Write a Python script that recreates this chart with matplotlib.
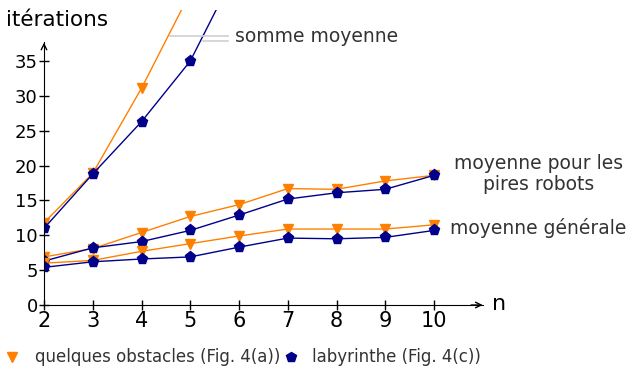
import matplotlib.pyplot as plt

# données
n = [2, 3, 4, 5, 6, 7, 8, 9, 10]
n_somme = [2, 3, 4, 5, 6]

# somme moyenne (courbes tronquées en haut)
somme_obst = [11.8, 18.9, 31.1, 44.8]
somme_laby = [11.0, 18.8, 26.3, 35.0, 48.8]

# moyenne pour les pires robots
pires_obst = [6.9, 8.1, 10.4, 12.7, 14.4, 16.7, 16.6, 17.8, 18.6]
pires_laby = [6.3, 8.2, 9.1, 10.7, 12.9, 15.2, 16.1, 16.6, 18.6]

# moyenne générale
gen_obst = [6.0, 6.4, 7.7, 8.8, 9.9, 10.9, 10.9, 10.9, 11.5]
gen_laby = [5.4, 6.2, 6.6, 6.9, 8.3, 9.6, 9.5, 9.7, 10.7]

yticks = [0, 5, 10, 15, 20, 25, 30, 35]

ORANGE = '#ff8000'
BLUE = '#00008b'
TXT = '#333333'

plt.rcParams['font.family'] = 'DejaVu Sans'

fig = plt.figure(figsize=(6.3, 3.73), dpi=100)
W, H = 630, 373
# axe : n=2 -> px 44, n=11.09 -> px 487 ; y=0 -> px 305, y=42.3 -> px 10
ax = fig.add_axes([44 / W, (H - 305) / H, (487 - 44) / W, (305 - 10) / H])
ax.set_xlim(2, 2 + (487 - 44) / 48.75)
ax.set_ylim(0, (305 - 10) / 6.97)

st_o = dict(color=ORANGE, lw=1, marker='v', ms=7, mfc=ORANGE, mec=ORANGE)
st_b = dict(color=BLUE, lw=1, marker='p', ms=8, mfc=BLUE, mec=BLUE)

ax.plot(n_somme[:len(somme_obst)], somme_obst, **st_o)
ax.plot(n_somme, somme_laby, **st_b)
ax.plot(n, pires_obst, **st_o)
ax.plot(n, pires_laby, **st_b)
ax.plot(n, gen_obst, **st_o)
ax.plot(n, gen_laby, **st_b)

# axes avec flèches
for s in ['top', 'right']:
    ax.spines[s].set_visible(False)
ymax_axis = (305 - 42) / 6.97
xmax_axis = 2 + (483 - 44) / 48.75
ax.spines['left'].set_bounds(0, ymax_axis)
ax.spines['bottom'].set_bounds(2, xmax_axis)
ax.annotate('', xy=(2, ymax_axis + 0.3), xytext=(2, ymax_axis - 1),
            arrowprops=dict(arrowstyle='->', lw=1, color='black'), annotation_clip=False)
ax.annotate('', xy=(xmax_axis + 0.05, 0), xytext=(xmax_axis - 0.3, 0),
            arrowprops=dict(arrowstyle='->', lw=1, color='black'), annotation_clip=False)

ax.set_xticks(n)
ax.set_yticks(yticks)
ax.tick_params(direction='inout', length=7, width=1, pad=1)
ax.tick_params(axis='y', labelsize=13)
ax.tick_params(axis='x', labelsize=15)

fig.text(6 / W, 1 - 20 / H, 'itérations', fontsize=15.5, va='center', ha='left')
fig.text(492 / W, 1 - 304 / H, 'n', fontsize=16, va='center', ha='left')

# étiquettes des courbes
fig.text(235 / W, 1 - 37 / H, 'somme moyenne', fontsize=13.5, color=TXT, va='center')
fig.lines.append(plt.Line2D([170 / W, 228 / W], [1 - 36 / H, 1 - 36 / H],
                            transform=fig.transFigure, color='#d0d0d0', lw=1.2))
fig.lines.append(plt.Line2D([203 / W, 228 / W], [1 - 40.7 / H, 1 - 40.7 / H],
                            transform=fig.transFigure, color='#d0d0d0', lw=1.2))
fig.text(539 / W, 1 - 174 / H, 'moyenne pour les\npires robots', fontsize=13.5,
         color=TXT, va='center', ha='center', linespacing=1.15)
fig.text(450 / W, 1 - 228 / H, 'moyenne générale', fontsize=13.5, color=TXT, va='center')

# légende
fig.lines.append(plt.Line2D([12 / W], [1 - 357 / H], transform=fig.transFigure,
                            ls='none', marker='v', ms=7, color=ORANGE))
fig.text(35 / W, 1 - 357 / H, 'quelques obstacles (Fig. 4(a))', fontsize=12,
         color=TXT, va='center')
fig.lines.append(plt.Line2D([291 / W], [1 - 357 / H], transform=fig.transFigure,
                            ls='none', marker='p', ms=7, color=BLUE))
fig.text(312 / W, 1 - 357 / H, 'labyrinthe (Fig. 4(c))', fontsize=12,
         color=TXT, va='center')

fig.savefig('out.png', dpi=100)
